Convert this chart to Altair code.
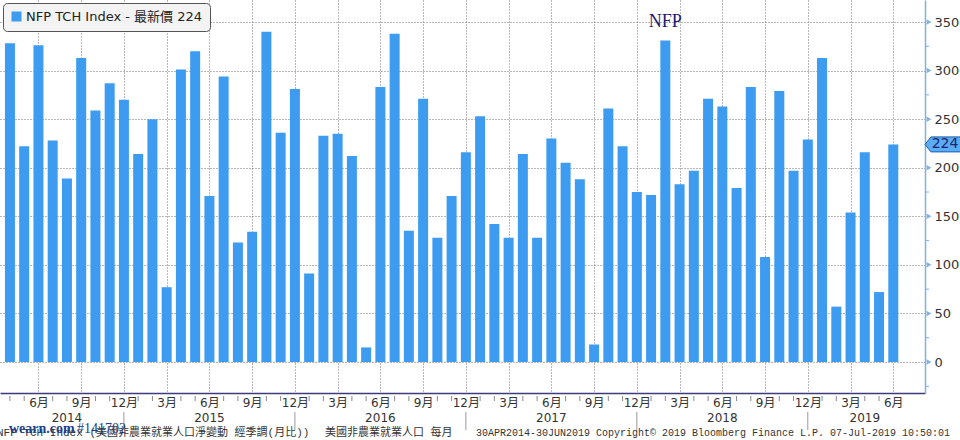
import altair as alt
import pandas as pd

# ---------------- data ----------------
values = [328, 222, 326, 228, 189, 313, 259, 287, 270,
          214, 250, 77, 301, 320, 171, 294, 123, 134, 340, 236, 281,
          91, 233, 235, 212, 15, 283, 338, 135, 271, 128, 171, 216,
          253, 142, 128, 214, 128, 230, 205, 188, 18, 261, 222, 175,
          172, 331, 183, 197, 271, 263, 179, 283, 108, 279, 197, 229,
          313, 57, 154, 216, 72, 224]
first_year = 2014
first_month = 4
year_names = [2014, 2015, 2016, 2017, 2018, 2019]
year_label_months = [8, 6, 6, 6, 6, 4]
major_ticks = [0, 50, 100, 150, 200, 250, 300, 350]
minor_ticks = [-25, 25, 75, 125, 175, 225, 275, 325]
latest_value = 224
series_name = "NFP TCH Index - 最新價 224"
annotation_text = "NFP"
annotation_year, annotation_month, annotation_value = 2018, 2, 350
footer_a = "NFP TCH Index (美國非農業就業人口淨變動 經季調(月比))"
footer_b = "美國非農業就業人口  每月"
footer_c = "30APR2014-30JUN2019  Copyright© 2019 Bloomberg Finance L.P.  07-Jul-2019 10:50:01"
watermark_a = "wearn.com"
watermark_b = "#141702"

# ---------------- tables ----------------
rows = []
for i, v in enumerate(values):
    m0 = first_month - 1 + i
    rows.append({"idx": i, "value": v, "year": first_year + m0 // 12,
                 "month": m0 % 12 + 1, "series": series_name})
df = pd.DataFrame(rows)

def idx_of(y, m):
    return int(df[(df.year == y) & (df.month == m)].idx.iloc[0])

quarter_idx = df[df.month % 3 == 0].idx.tolist()
other_idx = df[df.month % 3 != 0].idx.tolist()
dec_idx = df[df.month == 12].idx.tolist()
year_df = pd.DataFrame({"idx": [idx_of(y, m) for y, m in zip(year_names, year_label_months)],
                        "label": [str(y) for y in year_names]})

BLUE = "#3d9cf0"
LIGHT = "#7fb2e0"
NAVY = "#3b3b7d"
FONT = "DejaVu Sans, Noto Sans CJK TC"
MONO = "Liberation Mono, Noto Sans CJK TC"

xs = alt.Scale(domain=[-0.3472, 63.875], nice=False, zero=False)
ys = alt.Scale(domain=[-31.91, 372.65], nice=False, zero=False)

x_axis = alt.Axis(
    title=None, values=quarter_idx,
    labelExpr=f"((datum.value + {first_month - 1}) % 12 + 1) + '月'",
    grid=True, gridDash=[1, 2], gridColor="#707070", gridWidth=1,
    ticks=False, domainColor=NAVY, domainWidth=1.5,
    labelFont=FONT, labelFontSize=12, labelColor="#333", labelPadding=4,
    labelFlush=False, labelOverlap=False)
y_axis = alt.Axis(
    title=None, orient="right", values=major_ticks,
    grid=True, gridDash=[1, 2], gridColor="#707070", gridWidth=1,
    ticks=False, domainColor=LIGHT, domainWidth=1.5,
    labelFont=FONT, labelFontSize=13, labelColor="#333", labelPadding=9,
    labelFlush=False, labelOverlap=False)

def X(field):
    return alt.X(field, scale=xs, axis=x_axis)

def Y(field):
    return alt.Y(field, scale=ys, axis=y_axis)

bars = alt.Chart(df).mark_bar(size=10).encode(
    x=X("idx:Q"),
    y=Y("value:Q"),
    y2=alt.datum(0),
    color=alt.Color("series:N", scale=alt.Scale(range=[BLUE]), legend=alt.Legend(
        title=None, orient="top-left", offset=3, fillColor="#f3f3f3",
        strokeColor="#555", cornerRadius=4, padding=7, labelLimit=400,
        labelFont=FONT, labelFontSize=13, labelColor="#222", labelOffset=3,
        symbolType="square", symbolSize=100, symbolStrokeWidth=0)),
)

month_ticks = alt.Chart(pd.DataFrame({"idx": other_idx})).mark_rule(color="#888").encode(
    x=X("idx:Q"), y=alt.value(396), y2=alt.value(401))

year_sep = alt.Chart(pd.DataFrame({"idx": dec_idx})).mark_rule(color="#999").encode(
    x=X("idx:Q"), y=alt.value(412), y2=alt.value(430))

year_labels = alt.Chart(year_df).mark_text(font=FONT, fontSize=12, color="#333",
                                           baseline="middle").encode(
    x=X("idx:Q"), y=alt.value(418), text="label:N")

minor = alt.Chart(pd.DataFrame({"v": minor_ticks})).mark_rule(color=LIGHT).encode(
    y=Y("v:Q"), x=alt.value(925), x2=alt.value(929))

tri = alt.Chart(pd.DataFrame({"v": major_ticks})).mark_point(
    shape="triangle-right", filled=True, size=30, color=LIGHT, opacity=1).encode(
    y=Y("v:Q"), x=alt.value(929))

callout_df = pd.DataFrame({"v": [latest_value], "label": [str(latest_value)]})
callout = alt.Chart(callout_df).mark_point(
    shape="M -1.8 0 L -1.2 -0.75 L 1.8 -0.75 L 1.8 0.75 L -1.2 0.75 Z",
    filled=True, size=400, fill="#5aacf5", stroke="#1f5fa8", strokeWidth=1,
    opacity=1).encode(y=Y("v:Q"), x=alt.value(943))
callout_txt = alt.Chart(callout_df).mark_text(
    font=FONT, fontSize=14, color="#1a2470", align="center", baseline="middle").encode(
    y=Y("v:Q"), x=alt.value(945), text="label:N")

annot = alt.Chart(pd.DataFrame({"idx": [idx_of(annotation_year, annotation_month)],
                                "v": [annotation_value], "t": [annotation_text]})).mark_text(
    font="Liberation Serif", fontSize=18, color="#1c1c7a", baseline="middle").encode(
    x=X("idx:Q"), y=Y("v:Q"), text="t:N")

def free_text(txt, px, py, **kw):
    return alt.Chart(pd.DataFrame({"t": [txt]})).mark_text(
        align="left", baseline="middle", **kw).encode(
        x=alt.value(px), y=alt.value(py), text="t:N")

foot_a = free_text(footer_a, -3, 433, font=MONO, fontSize=11, color="#333")
foot_b = free_text(footer_b, 325, 433, font=MONO, fontSize=11, color="#333")
foot_c = free_text(footer_c, 476, 433, font=MONO, fontSize=10, color="#333")
wm_a = free_text(watermark_a, 9, 429, font="Liberation Serif", fontSize=14,
                 fontWeight="bold", color="#23408a")
wm_b = free_text(watermark_b, 77, 429, font="Liberation Serif", fontSize=14,
                 color="#23408a")

chart = alt.layer(
    bars, month_ticks, year_sep, year_labels, minor, tri, callout, callout_txt,
    annot, foot_a, foot_b, foot_c, wm_a, wm_b
).properties(
    width=925, height=393,
    autosize=alt.AutoSizeParams(type="none"),
    padding={"left": 0, "top": 0, "right": 35, "bottom": 47},
    background="white",
).configure_view(strokeWidth=0)

chart.save("out.html", embed_options={"renderer": "svg", "actions": False})
